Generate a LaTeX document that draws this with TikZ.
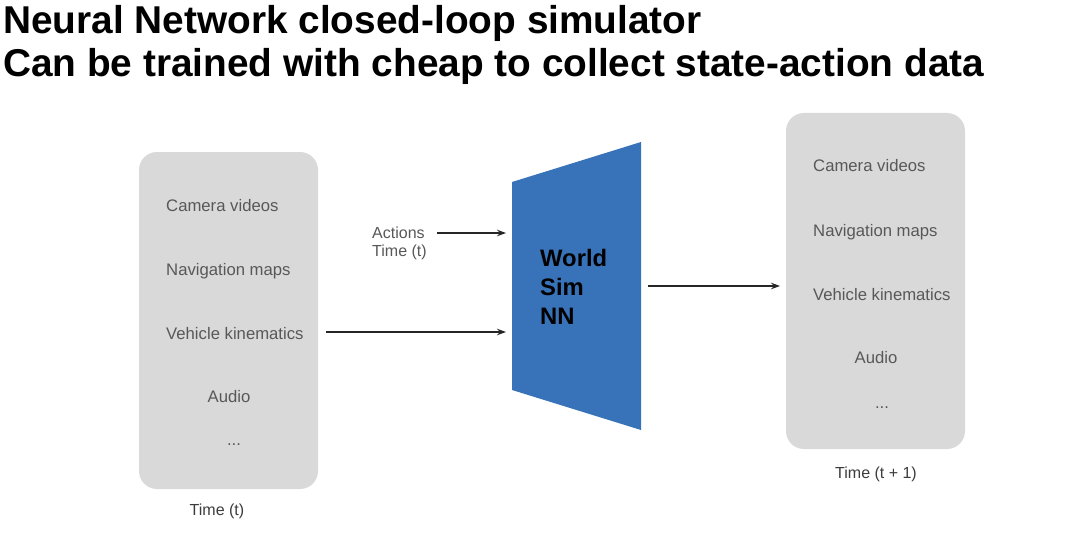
\documentclass[tikz,border=0pt]{standalone}
\usepackage{fontspec}
\setmainfont{Liberation Sans}
\usetikzlibrary{arrows.meta}
\definecolor{boxgray}{RGB}{217,217,217}
\definecolor{txtgray}{RGB}{88,88,88}
\definecolor{labgray}{RGB}{60,60,60}
\definecolor{simblue}{RGB}{56,114,184}
\tikzset{
  panel/.style={fill=boxgray, draw=none, rounded corners=18pt, minimum width=179pt, inner sep=0pt},
  item/.style={font=\fontsize{16.7}{19}\selectfont, text=txtgray, inner sep=0pt, anchor=west},
  citem/.style={font=\fontsize{16.7}{19}\selectfont, text=txtgray, inner sep=0pt},
  timelab/.style={font=\fontsize{16}{19}\selectfont, text=labgray, inner sep=0pt},
  ttl/.style={font=\fontsize{38.8}{44}\selectfont\bfseries, inner sep=0pt, anchor=base west},
  conn/.style={-{Stealth[length=9pt,width=6.5pt]}, line width=1.2pt, black!85}
}
\begin{document}
\begin{tikzpicture}[x=1pt,y=-1pt]
\useasboundingbox[fill=white] (0,0) rectangle (1080,535);
% titles
\node[ttl] (t1) at (3,34) {Neural Network closed-loop simulator};
\node[ttl] (t2) at (3,77) {Can be trained with cheap to collect state-action data};
% left panel
\node[panel, minimum height=337pt] (lbox) at (228.5,320.5) {};
\node[item] (l1) at (166,206) {Camera videos};
\node[item] (l2) at (166,271) {Navigation maps};
\node[item] (l3) at (166,334) {Vehicle kinematics};
\node[citem] (l4) at (229,397) {Audio};
\node[citem] (l5) at (234,445) {...};
\node[timelab] (lt) at (217,511) {Time (t)};
% right panel
\node[panel, minimum height=336pt] (rbox) at (875.5,281) {};
\node[item] (r1) at (813,166) {Camera videos};
\node[item] (r2) at (813,232) {Navigation maps};
\node[item] (r3) at (813,295) {Vehicle kinematics};
\node[citem] (r4) at (876,358) {Audio};
\node[citem] (r5) at (882,408) {...};
\node[timelab] (rt) at (876,474) {Time (t + 1)};
% world sim trapezoid
\fill[simblue] (512,182) coordinate (tl) -- (641,142) coordinate (tr) -- (641,430) coordinate (br) -- (512,390) coordinate (bl) -- cycle;
\node[font=\fontsize{23.8}{29}\selectfont\bfseries, align=left, inner sep=0pt, anchor=north west] (sim) at (540,249) {World\\Sim\\NN};
% actions label
\node[font=\fontsize{16}{18}\selectfont, text=txtgray, align=left, inner sep=0pt, anchor=west] (act) at (372,243) {Actions\\Time (t)};
% connectors
\coordinate (a1s) at (437,233);
\coordinate (a1e) at (506,233);
\coordinate (a2s) at (326,332);
\coordinate (a2e) at (506,332);
\coordinate (a3s) at (648,286);
\coordinate (a3e) at (780,286);
\draw[conn] (a1s) -- (a1e);
\draw[conn] (a2s) -- (a2e);
\draw[conn] (a3s) -- (a3e);
\end{tikzpicture}
\end{document}
